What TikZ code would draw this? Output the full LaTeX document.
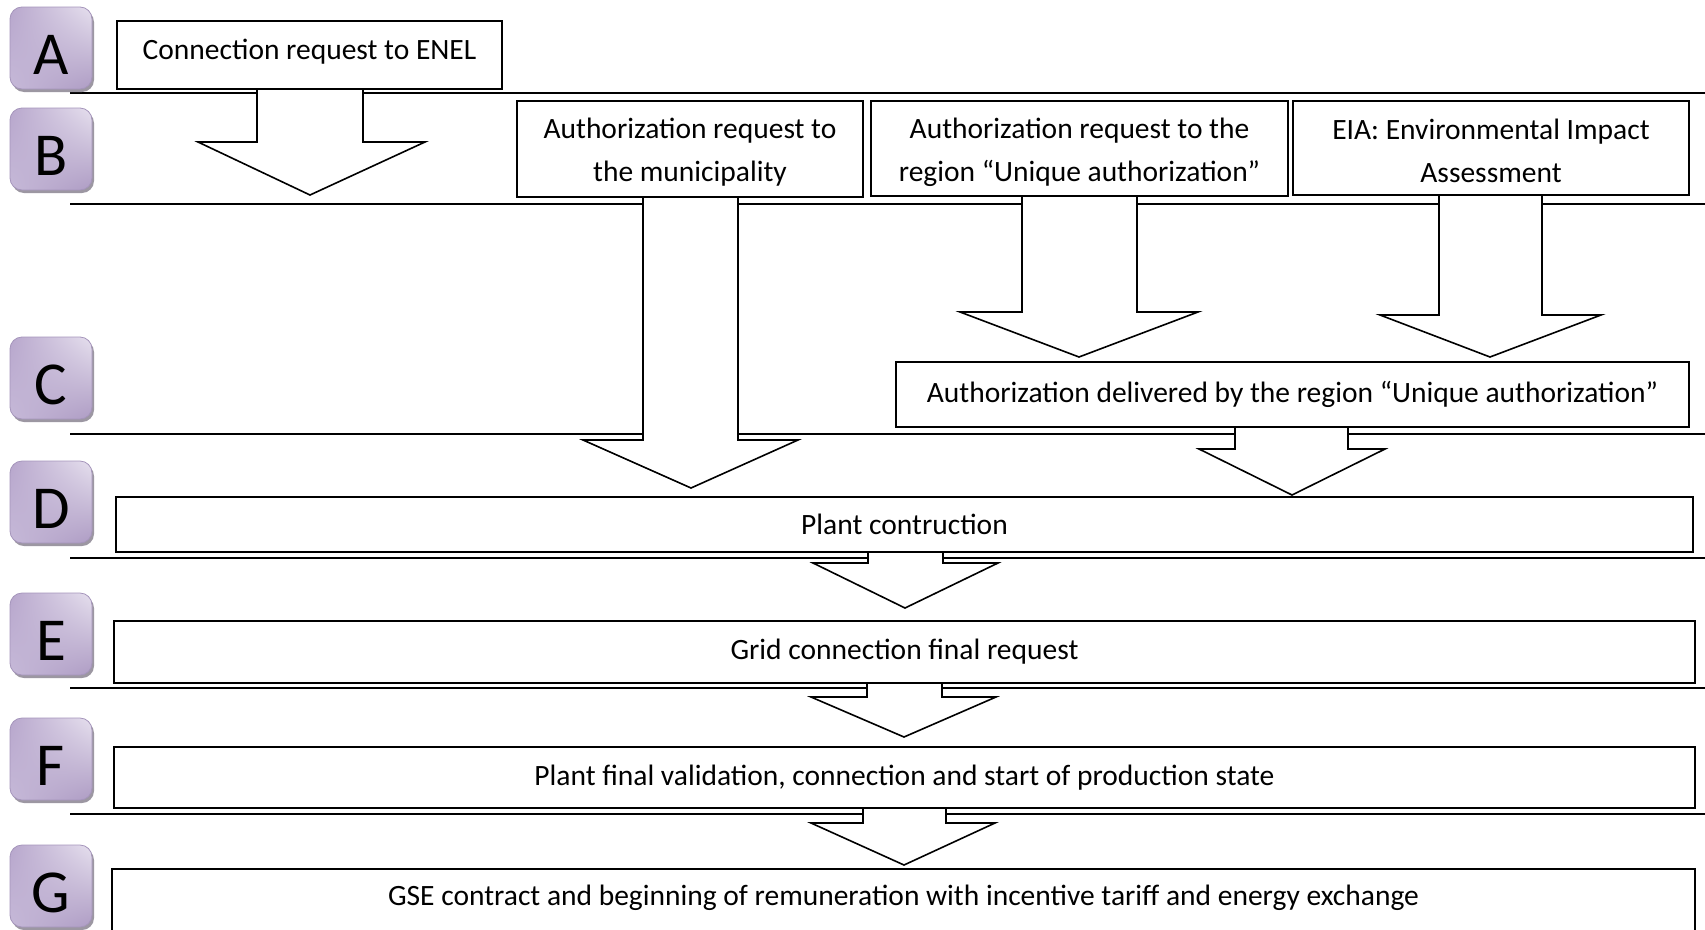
\documentclass[tikz,border=0pt]{standalone}
\usepackage{fontspec}
\setmainfont{Carlito}
\usetikzlibrary{shadings,shadows}
\definecolor{lavlight}{HTML}{E6E0EE}
\definecolor{lavmid}{HTML}{B7A6CC}
\definecolor{lavlow}{HTML}{C6B9D8}
\definecolor{lavdark}{HTML}{AE9CC4}
\definecolor{lavedge}{HTML}{A595BB}
\definecolor{shadowgray}{HTML}{9C97A2}
\newcommand{\blockarr}[8]{%
  \draw[barrow] (#1,#3) -- (#1,#4) -- (#5,#4) -- (#7,#8) -- (#6,#4) -- (#2,#4) -- (#2,#3) -- cycle;}
\begin{document}
\begin{tikzpicture}[x=1pt,y=-1pt,
  sep/.style={line width=1.6pt},
  barrow/.style={draw, fill=white, line width=1.6pt, line join=miter},
  stepbox/.style={draw, fill=white, line width=1.6pt, inner sep=0pt, align=center,
    font=\fontsize{29.5}{43}\selectfont},
  letterbox/.style={rounded corners=12pt, minimum width=82pt, minimum height=82pt,
    inner sep=0pt, draw=lavedge, line width=0.8pt,
    drop shadow={shadow xshift=2pt, shadow yshift=-3pt, fill=shadowgray, opacity=1},
    upper right=lavlight, upper left=lavmid, lower left=lavlow, lower right=lavdark,
    font=\fontsize{61}{61}\selectfont, text height=52pt, text depth=0pt}
]
\useasboundingbox (0,0) rectangle (1705,929);
\fill[white] (0,0) rectangle (1705,929);

% separator lines
\draw[sep] (70,93) -- (1705,93);
\draw[sep] (70,204) -- (1705,204);
\draw[sep] (70,434) -- (1705,434);
\draw[sep] (70,558) -- (1705,558);
\draw[sep] (70,688) -- (1705,688);
\draw[sep] (70,814) -- (1705,814);

% block arrows: shaftL shaftR top shoulder headL headR tipx tipy
\blockarr{257}{363}{86}{142}{198}{425}{310}{195}
\blockarr{643}{738}{194}{440}{583}{798}{691}{488}
\blockarr{1022}{1137}{193}{312}{960}{1198}{1079}{357}
\blockarr{1439}{1542}{192}{315}{1380}{1601}{1490}{357}
\blockarr{1235}{1348}{424}{449}{1199}{1385}{1292}{495}
\blockarr{868}{943}{549}{563}{813}{998}{905}{608}
\blockarr{867}{942}{680}{697}{811}{996}{904}{737}
\blockarr{863}{946}{805}{823}{811}{995}{904}{865}

% boxes
\node[stepbox, minimum width=385pt, minimum height=68pt, text depth=12pt] (bA) at (309.5,55) {Connection request to ENEL};
\node[stepbox, minimum width=346pt, minimum height=96pt] (bMun) at (690,149) {\rule{0pt}{27pt}Authorization request to\\the municipality};
\node[stepbox, minimum width=417pt, minimum height=95pt] (bReg) at (1079.5,148.5) {\rule{0pt}{28pt}Authorization request to the\\region “Unique authorization”};
\node[stepbox, minimum width=396pt, minimum height=94pt] (bEIA) at (1491,148) {\rule{0pt}{27pt}EIA: Environmental Impact\\Assessment};
\node[stepbox, minimum width=793pt, minimum height=65pt] (bAuth) at (1292.5,394.5) {Authorization delivered by the region “Unique authorization”};
\node[stepbox, minimum width=1577pt, minimum height=55pt] (bD) at (904.5,524.5) {Plant contruction};
\node[stepbox, minimum width=1581pt, minimum height=62pt] (bE) at (904.5,652) {Grid connection final request};
\node[stepbox, minimum width=1581pt, minimum height=61pt] (bF) at (904.5,777.5) {Plant final validation, connection and start of production state};
\node[stepbox, minimum width=1583pt, minimum height=80pt] (bG) at (903.5,909) {};
\node[font=\fontsize{29.5}{43}\selectfont, inner sep=0pt] (tG) at (903.5,898) {GSE contract and beginning of remuneration with incentive tariff and energy exchange};

% letter boxes
\node[letterbox] (lA) at (51,48) {A};
\node[letterbox] (lB) at (51,149) {B};
\node[letterbox] (lC) at (51,378) {C};
\node[letterbox] (lD) at (51,502) {D};
\node[letterbox] (lE) at (51,634) {E};
\node[letterbox] (lF) at (51,759) {F};
\node[letterbox] (lG) at (51,886) {G};
\end{tikzpicture}
\end{document}
